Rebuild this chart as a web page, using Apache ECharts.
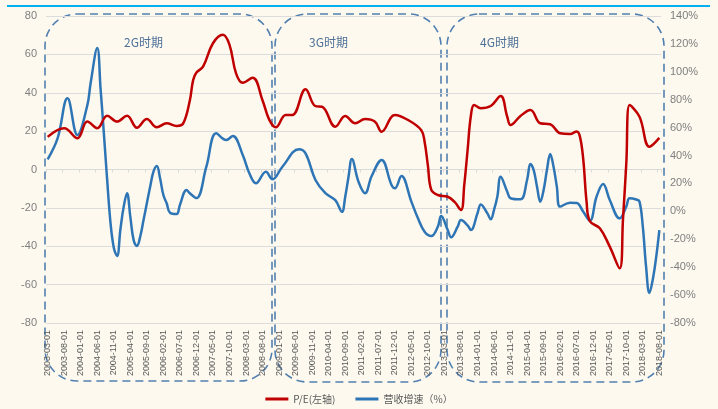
<!DOCTYPE html>
<html>
<head>
<meta charset="utf-8">
<script src="https://cdn.jsdelivr.net/npm/echarts@6/dist/echarts.min.js"></script>
<style>
  html, body { margin: 0; padding: 0; background: #fdf9ef; }
  #chart { width: 718px; height: 409px; }
</style>
</head>
<body>
<div id="chart"></div>
<script>
// Monthly category axis: 2003-03 .. 2018-08
const firstYear = 2003, firstMonth = 3, monthCount = 186;
const categories = [];
for (let i = 0; i < monthCount; i++) {
  const t = firstMonth - 1 + i;
  const y = firstYear + Math.floor(t / 12);
  const m = (t % 12) + 1;
  categories.push(y + '-' + (m < 10 ? '0' + m : m) + '-01');
}

// P/E (left axis)
const peDates = ['2003-03-01','2003-08-01','2003-12-01','2004-03-01','2004-06-01','2004-09-01','2004-12-01','2005-03-01','2005-06-01','2005-09-01','2005-12-01','2006-03-01','2006-06-01','2006-08-01','2006-10-01','2006-11-01','2006-12-01','2007-02-01','2007-05-01','2007-08-01','2007-10-01','2007-12-01','2008-02-01','2008-05-01','2008-08-01','2008-10-01','2008-12-01','2009-03-01','2009-05-01','2009-09-01','2009-12-01','2010-02-01','2010-06-01','2010-09-01','2010-12-01','2011-03-01','2011-06-01','2011-08-01','2011-12-01','2012-04-01','2012-08-01','2012-09-01','2012-10-01','2012-11-01','2013-01-01','2013-04-01','2013-06-01','2013-08-01','2013-09-01','2013-10-01','2013-11-01','2013-12-01','2014-02-01','2014-05-01','2014-08-01','2014-10-01','2014-11-01','2015-02-01','2015-05-01','2015-08-01','2015-11-01','2016-02-01','2016-05-01','2016-07-01','2016-08-01','2016-09-01','2016-10-01','2016-11-01','2017-02-01','2017-05-01','2017-08-01','2017-09-01','2017-10-01','2017-11-01','2018-02-01','2018-05-01','2018-08-01'];
const peValues = [17,21.5,16.3,25,21.5,28,25,28,21.8,26.3,22,24.1,22.7,24,36,46.6,50.5,53.6,65.8,70.2,65,50,45.2,47.8,36,26,22,28.4,28.4,41.8,33,32.7,22.3,27.9,24.1,26.3,24.9,19.7,28.4,25.8,20.5,14.5,2,-10.5,-13.3,-14.2,-16.8,-21.1,-8,10,28,33.6,31.9,33.1,38.3,27.5,23.2,27.9,31,24.1,23.6,18.9,18.5,19.8,17,5,-17,-27,-30.6,-40.2,-51.5,-26,3,33.6,27.5,11.9,16.5];

// Revenue growth, % (right axis)
const revDates = ['2003-03-01','2003-06-01','2003-09-01','2003-12-01','2004-03-01','2004-04-01','2004-06-01','2004-07-01','2004-08-01','2004-09-01','2004-10-01','2004-11-01','2004-12-01','2005-01-01','2005-02-01','2005-03-01','2005-04-01','2005-05-01','2005-06-01','2005-07-01','2005-08-01','2005-09-01','2005-10-01','2005-11-01','2005-12-01','2006-01-01','2006-02-01','2006-03-01','2006-04-01','2006-06-01','2006-07-01','2006-09-01','2006-10-01','2006-12-01','2007-03-01','2007-06-01','2007-09-01','2007-11-01','2008-02-01','2008-04-01','2008-06-01','2008-09-01','2008-11-01','2009-02-01','2009-07-01','2009-09-01','2009-12-01','2010-03-01','2010-06-01','2010-08-01','2010-09-01','2010-10-01','2010-11-01','2011-01-01','2011-03-01','2011-05-01','2011-08-01','2011-11-01','2011-12-01','2012-02-01','2012-05-01','2012-07-01','2012-09-01','2012-11-01','2013-01-01','2013-02-01','2013-04-01','2013-05-01','2013-07-01','2013-08-01','2013-10-01','2013-11-01','2014-01-01','2014-02-01','2014-04-01','2014-05-01','2014-06-01','2014-07-01','2014-08-01','2014-10-01','2014-11-01','2015-02-01','2015-04-01','2015-05-01','2015-06-01','2015-07-01','2015-08-01','2015-09-01','2015-10-01','2015-11-01','2015-12-01','2016-01-01','2016-02-01','2016-05-01','2016-07-01','2016-09-01','2016-11-01','2017-01-01','2017-03-01','2017-05-01','2017-08-01','2017-10-01','2017-11-01','2018-01-01','2018-02-01','2018-03-01','2018-04-01','2018-05-01','2018-06-01','2018-07-01','2018-08-01'];
const revValues = [37.3,52.3,81,54.7,76,92,117,88,56,22.5,-8,-26,-32,-13,3.4,13,-3.8,-20.5,-24.8,-18,-6.2,5.8,17.7,28.4,32.5,23.7,11.7,5.8,-1,-1.9,4.6,15.3,13,9.5,32,55.9,51.1,54,40.4,27.3,20.1,28.4,23,32,44.5,41.6,22.5,13,8.1,-0.3,10.5,24.8,37.5,21.3,13,25.3,36.8,18.9,16.5,25.3,7,-5,-14.6,-17.7,-11,-3.3,-13.4,-18.6,-11,-6.2,-10,-13.4,-1.4,5,-1.4,-5.7,1,10.5,24.8,14.1,9.4,8.6,22.5,34,29.6,17.7,6.9,15.3,29.6,41.1,32,17.7,3.4,6.2,6,-0.3,-6.7,10.5,19.6,8.1,-5,3.4,9.4,8.5,7,-11,-40,-58.5,-49,-33.6,-13.4];

// Period annotations
const periodNames = ['2G时期', '3G时期', '4G时期'];

const peData = peDates.map((d, i) => [d, peValues[i]]);
const revData = revDates.map((d, i) => [d, revValues[i]]);

const labelFont = "'Liberation Sans', 'Noto Sans CJK SC', sans-serif";
const boxStyle = { fill: 'none', stroke: '#5180b0', lineWidth: 1.6, lineDash: [8, 5] };
const periodText = (x, text) => ({
  type: 'text', left: x, top: 36, silent: true,
  style: { text: text, fill: '#4f7198', font: "12px 'Noto Sans CJK SC', sans-serif" }
});

const chart = echarts.init(document.getElementById('chart'));
chart.setOption({
  backgroundColor: '#fdf9ef',
  animation: false,
  grid: { left: 46, right: 57, top: 16, bottom: 86 },
  legend: {
    top: 389, left: 'center',
    itemWidth: 23, itemHeight: 3, itemGap: 20,
    icon: 'rect',
    data: ['P/E(左轴)', '营收增速（%）'],
    textStyle: { color: '#595959', fontSize: 10, fontFamily: "'Noto Sans CJK SC', sans-serif" }
  },
  xAxis: [{
    type: 'category', data: categories, boundaryGap: true,
    axisLine: { show: false, onZero: false },
    axisTick: { show: false },
    axisLabel: {
      interval: 4, rotate: 90, margin: 7, fontSize: 9, color: '#595959', fontFamily: labelFont
    },
    splitLine: { show: false }
  }, {
    type: 'category', data: categories, boundaryGap: true, position: 'bottom',
    axisLine: { show: true, onZero: true, onZeroAxisIndex: 0, lineStyle: { color: '#d9d9d9', width: 1 } },
    axisTick: { show: true, interval: 4, length: 3, lineStyle: { color: '#d9d9d9' } },
    axisLabel: { show: false },
    splitLine: { show: false }
  }],
  yAxis: [{
    type: 'value', min: -80, max: 80, interval: 20, position: 'left',
    axisLine: { show: false }, axisTick: { show: false },
    axisLabel: { margin: 9, fontSize: 11, color: '#7f7f7f', fontFamily: labelFont },
    splitLine: { lineStyle: { color: '#dcdcdc', width: 1 } }
  }, {
    type: 'value', min: -80, max: 140, interval: 20, position: 'right',
    axisLine: { show: false }, axisTick: { show: false },
    axisLabel: { margin: 9, fontSize: 11, color: '#7f7f7f', fontFamily: labelFont, formatter: '{value}%' },
    splitLine: { show: false }
  }],
  series: [{
    name: '营收增速（%）', type: 'line', xAxisIndex: 0, yAxisIndex: 1,
    data: revData, smooth: 0.4, showSymbol: false,
    lineStyle: { color: '#2e75b6', width: 2.5 }, itemStyle: { color: '#2e75b6' }
  }, {
    name: 'P/E(左轴)', type: 'line', xAxisIndex: 0, yAxisIndex: 0,
    data: peData, smooth: 0.4, showSymbol: false,
    lineStyle: { color: '#c00000', width: 2.5 }, itemStyle: { color: '#c00000' }
  }],
  graphic: [
    { type: 'line', silent: true, shape: { x1: 7, y1: 6, x2: 710, y2: 6 }, style: { stroke: '#00b0f0', lineWidth: 2 } },
    { type: 'rect', silent: true, shape: { x: 45, y: 14, width: 227, height: 367, r: 32 }, style: boxStyle },
    { type: 'rect', silent: true, shape: { x: 275, y: 14, width: 166, height: 368, r: 32 }, style: boxStyle },
    { type: 'rect', silent: true, shape: { x: 447, y: 14, width: 217, height: 368, r: 32 }, style: boxStyle },
    periodText(124, periodNames[0]),
    periodText(309, periodNames[1]),
    periodText(480, periodNames[2])
  ]
});
</script>
</body>
</html>
